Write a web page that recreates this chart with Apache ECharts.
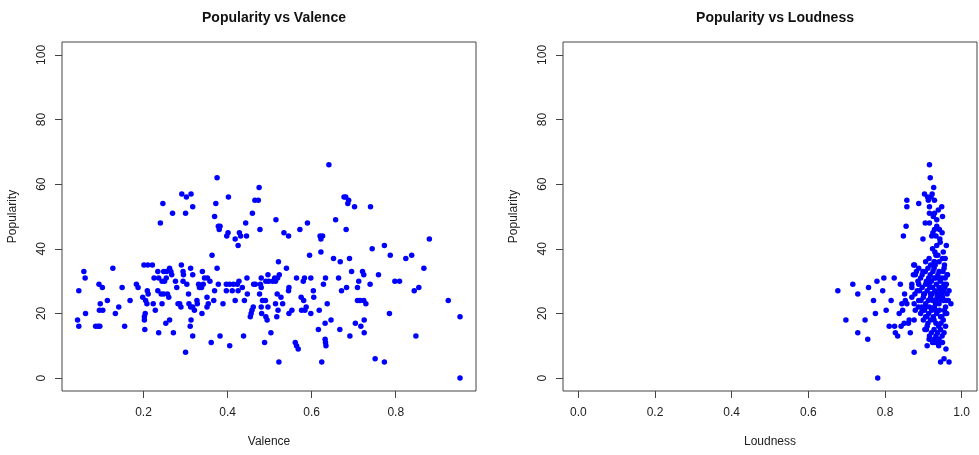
<!DOCTYPE html>
<html>
<head>
<meta charset="utf-8">
<script src="https://cdn.jsdelivr.net/npm/echarts@6/dist/echarts.min.js"></script>
<style>
  html, body { margin:0; padding:0; background:#fff; }
  #chart { width:979px; height:455px; }
</style>
</head>
<body>
<div id="chart"></div>
<script>
// [valence, popularity]
const valenceData = [
  [0.043,18],[0.046,16],[0.046,27],[0.058,33],[0.061,31],[0.062,20],[0.086,16],[0.092,16],[0.096,16],[0.094,29],
  [0.102,28],[0.097,23],[0.095,21],[0.103,21],[0.114,24],[0.127,34],[0.133,20],[0.141,22],[0.149,28],[0.155,16],
  [0.168,24],[0.183,29],[0.187,28],[0.198,25],[0.201,35],[0.210,35],[0.221,35],[0.202,18],[0.202,19],[0.204,20],
  [0.205,24],[0.208,23],[0.203,15],[0.209,27],[0.211,26],[0.223,23],[0.225,31],[0.228,21],[0.234,33],[0.234,27],
  [0.236,31],[0.236,14],[0.240,48],[0.244,30],[0.242,26],[0.244,23],[0.246,54],[0.248,33],[0.248,26],[0.250,30],
  [0.254,31],[0.253,17],[0.255,33],[0.257,26],[0.260,25],[0.262,34],[0.262,18],[0.265,33],[0.267,32],[0.269,51],
  [0.271,14],[0.276,30],[0.279,28],[0.282,23],[0.286,23],[0.289,22],[0.290,35],[0.291,57],[0.294,33],[0.294,30],
  [0.295,32],[0.300,51],[0.300,8],[0.302,56],[0.303,29],[0.307,26],[0.308,23],[0.312,34],[0.313,57],[0.312,22],
  [0.313,18],[0.311,16],[0.317,53],[0.317,32],[0.317,22],[0.317,13],[0.321,21],[0.327,24],[0.328,23],[0.331,29],
  [0.333,28],[0.338,28],[0.339,20],[0.340,33],[0.342,29],[0.345,31],[0.351,25],[0.351,22],[0.352,31],[0.354,23],
  [0.358,30],[0.361,11],[0.363,38],[0.367,24],[0.369,50],[0.369,27],[0.372,54],[0.375,62],[0.375,34],[0.378,47],
  [0.378,29],[0.380,46],[0.382,47],[0.382,13],[0.389,23],[0.397,27],[0.397,29],[0.398,44],[0.401,45],[0.402,56],
  [0.405,29],[0.405,10],[0.411,27],[0.414,29],[0.418,43],[0.418,24],[0.423,29],[0.425,41],[0.425,27],[0.427,30],
  [0.428,45],[0.431,44],[0.435,28],[0.438,13],[0.440,24],[0.443,48],[0.445,44],[0.446,31],[0.447,26],[0.454,19],
  [0.456,20],[0.458,21],[0.459,51],[0.461,22],[0.462,29],[0.465,55],[0.466,29],[0.473,55],[0.475,59],[0.476,26],
  [0.477,46],[0.478,29],[0.480,31],[0.480,28],[0.480,22],[0.481,20],[0.483,24],[0.488,11],[0.490,24],[0.491,30],
  [0.491,19],[0.494,18],[0.496,32],[0.496,22],[0.498,30],[0.503,14],[0.507,30],[0.512,31],[0.514,30],[0.514,23],
  [0.515,49],[0.517,19],[0.518,26],[0.519,31],[0.520,21],[0.521,36],[0.522,5],[0.523,32],[0.527,25],[0.531,23],
  [0.534,45],[0.540,34],[0.545,44],[0.545,27],[0.546,28],[0.546,20],[0.553,21],[0.561,11],[0.564,31],[0.564,10],
  [0.568,9],[0.572,46],[0.575,25],[0.576,21],[0.580,30],[0.583,31],[0.581,24],[0.584,21],[0.587,22],[0.590,48],
  [0.595,38],[0.598,31],[0.598,20],[0.604,27],[0.605,25],[0.616,15],[0.618,21],[0.620,44],[0.622,43],[0.622,39],
  [0.624,5],[0.626,44],[0.628,29],[0.632,17],[0.632,12],[0.633,31],[0.633,11],[0.634,10],[0.637,23],[0.641,66],
  [0.646,18],[0.652,37],[0.657,49],[0.664,31],[0.667,15],[0.668,36],[0.671,27],[0.677,56],[0.681,56],[0.682,46],
  [0.683,28],[0.686,54],[0.688,55],[0.690,37],[0.691,13],[0.695,33],[0.702,53],[0.704,17],[0.709,28],[0.709,24],
  [0.712,30],[0.715,24],[0.717,16],[0.721,33],[0.724,24],[0.724,32],[0.725,18],[0.725,14],[0.729,23],[0.739,29],
  [0.740,53],[0.744,40],[0.751,6],[0.759,32],[0.773,41],[0.773,5],[0.785,20],[0.787,38],[0.798,30],[0.809,30],
  [0.824,37],[0.838,38],[0.844,27],[0.848,13],[0.855,28],[0.867,34],[0.880,43],[0.925,24],[0.953,19],[0.953,0]
];

// [loudness, popularity]
const loudnessData = [
  [0.677,27],[0.698,18],[0.716,29],[0.729,26],[0.729,14],[0.748,18],[0.757,28],[0.755,12],[0.770,24],[0.775,20],
  [0.779,30],[0.781,0],[0.794,27],[0.797,31],[0.803,21],[0.811,16],[0.816,24],[0.824,31],[0.825,16],[0.827,14],
  [0.833,13],[0.837,20],[0.840,29],[0.842,16],[0.844,23],[0.846,21],[0.848,44],[0.850,17],[0.851,26],[0.853,24],
  [0.855,47],[0.857,55],[0.857,53],[0.857,23],[0.861,17],[0.863,18],[0.866,14],[0.870,28],[0.874,32],[0.876,23],
  [0.876,18],[0.876,8],[0.875,35],[0.888,54],
  [0.916,66],[0.918,62],[0.927,59],[0.903,57],[0.911,56],[0.920,56],[0.929,55],[0.916,53],[0.948,53],[0.916,51],
  [0.929,51],[0.950,50],[0.935,49],[0.916,48],[0.905,48],[0.929,46],[0.942,46],[0.925,45],[0.949,45],[0.933,44],
  [0.943,43],[0.899,43],[0.935,41],[0.960,41],[0.924,40],[0.930,39],[0.938,38],[0.950,37],[0.957,37],[0.929,36],
  [0.877,35],[0.888,34],[0.906,36],[0.919,35],[0.928,34],[0.941,33],[0.954,34],[0.879,32],[0.897,32],[0.914,31],
  [0.932,31],[0.949,31],[0.962,32],[0.870,29],[0.888,29],[0.906,29],[0.924,28],[0.941,28],[0.954,29],[0.967,27],
  [0.884,27],[0.901,26],[0.919,26],[0.937,26],[0.950,25],[0.870,25],[0.888,24],[0.906,23],[0.924,24],[0.941,23],
  [0.959,24],[0.972,23],[0.879,21],[0.897,21],[0.914,20],[0.932,21],[0.957,20],[0.906,19],[0.928,18],[0.945,19],
  [0.910,16],[0.928,15],[0.904,15],[0.937,14],[0.954,14],[0.916,13],[0.928,12],[0.941,12],[0.910,10],[0.924,11],
  [0.937,11],[0.959,9],[0.945,5],[0.954,6],[0.967,5],
  [0.905,33],[0.912,34],[0.918,32],[0.925,33],[0.931,35],[0.938,32],[0.944,30],[0.951,33],[0.957,31],[0.893,31],
  [0.899,33],[0.908,30],[0.915,29],[0.921,30],[0.928,31],[0.934,29],[0.940,31],[0.947,28],[0.953,27],[0.960,29],
  [0.890,27],[0.897,28],[0.903,26],[0.910,27],[0.917,28],[0.923,26],[0.930,27],[0.936,25],[0.943,27],[0.949,26],
  [0.956,28],[0.962,26],[0.894,24],[0.900,25],[0.907,22],[0.913,24],[0.919,25],[0.926,24],[0.932,23],[0.939,24],
  [0.945,25],[0.952,24],[0.958,22],[0.965,24],[0.896,22],[0.903,21],[0.909,19],[0.916,22],[0.922,21],[0.929,22],
  [0.935,20],[0.942,21],[0.948,19],[0.955,21],[0.961,20],[0.900,18],[0.912,17],[0.919,18],[0.926,19],[0.933,17],
  [0.940,16],[0.946,17],[0.952,18],[0.908,15],[0.921,14],[0.933,13],[0.945,15],[0.915,12],[0.930,11],[0.940,10],
  [0.950,11],[0.922,44],[0.935,47],[0.944,42],[0.926,50],[0.939,52],[0.913,55],[0.923,57],[0.941,36],[0.933,38],
  [0.952,39],[0.915,37],[0.963,32],[0.955,35],[0.928,36],[0.886,30],[0.882,33],[0.878,26],[0.887,22],[0.893,20],
  [0.958,16],[0.949,13]
];

const popTicks = [0, 20, 40, 60, 80, 100];
const valenceTicks = [0.2, 0.4, 0.6, 0.8];
const loudnessTicks = [0.0, 0.2, 0.4, 0.6, 0.8, 1.0];

const FONT = '"Liberation Sans", Arial, sans-serif';
const INK = '#222';

function xAx(idx, name, min, max, ticks){
  return {
    type:'value', gridIndex: idx, min, max, name,
    nameLocation:'middle', nameGap: 45,
    nameTextStyle:{ color: INK, fontSize: 12, fontFamily: FONT },
    axisLine:{ show:false, onZero:false },
    axisTick:{ show:true, inside:false, length:7, customValues: ticks, lineStyle:{ color:'#444' } },
    axisLabel:{ customValues: ticks, formatter: v => v.toFixed(1), color: INK, fontSize: 12, fontFamily: FONT, margin: 16 },
    splitLine:{ show:false }
  };
}
function yAx(idx){
  return {
    type:'value', gridIndex: idx, min: -4, max: 104, name:'Popularity',
    nameLocation:'middle', nameGap: 43, nameRotate: 90,
    nameTextStyle:{ color: INK, fontSize: 12, fontFamily: FONT },
    axisLine:{ show:false, onZero:false },
    axisTick:{ show:true, inside:false, length:7, customValues: popTicks, lineStyle:{ color:'#444' } },
    axisLabel:{ customValues: popTicks, rotate: 90, color: INK, fontSize: 12, fontFamily: FONT, margin: 14 },
    splitLine:{ show:false }
  };
}

const chart = echarts.init(document.getElementById('chart'));
chart.setOption({
  animation:false,
  backgroundColor:'#fff',
  title:[
    { text:'Popularity vs Valence', left: 269, top: 6, textAlign:'center',
      textStyle:{ fontSize:14, fontWeight:'bold', color:'#111', fontFamily: FONT } },
    { text:'Popularity vs Loudness', left: 770, top: 6, textAlign:'center',
      textStyle:{ fontSize:14, fontWeight:'bold', color:'#111', fontFamily: FONT } }
  ],
  grid:[
    { left:62, top:42, width:414, height:349, show:true, borderColor:'#444', borderWidth:1, backgroundColor:'transparent' },
    { left:563, top:42, width:414, height:349, show:true, borderColor:'#444', borderWidth:1, backgroundColor:'transparent' }
  ],
  xAxis:[
    xAx(0, 'Valence', 0.006, 0.991, valenceTicks),
    xAx(1, 'Loudness', -0.04, 1.04, loudnessTicks)
  ],
  yAxis:[ yAx(0), yAx(1) ],
  series:[
    { type:'scatter', xAxisIndex:0, yAxisIndex:0, data: valenceData, symbolSize:5.5, itemStyle:{ color:'#0000ff', opacity:1 } },
    { type:'scatter', xAxisIndex:1, yAxisIndex:1, data: loudnessData, symbolSize:5.5, itemStyle:{ color:'#0000ff', opacity:1 } }
  ]
});
</script>
</body>
</html>
